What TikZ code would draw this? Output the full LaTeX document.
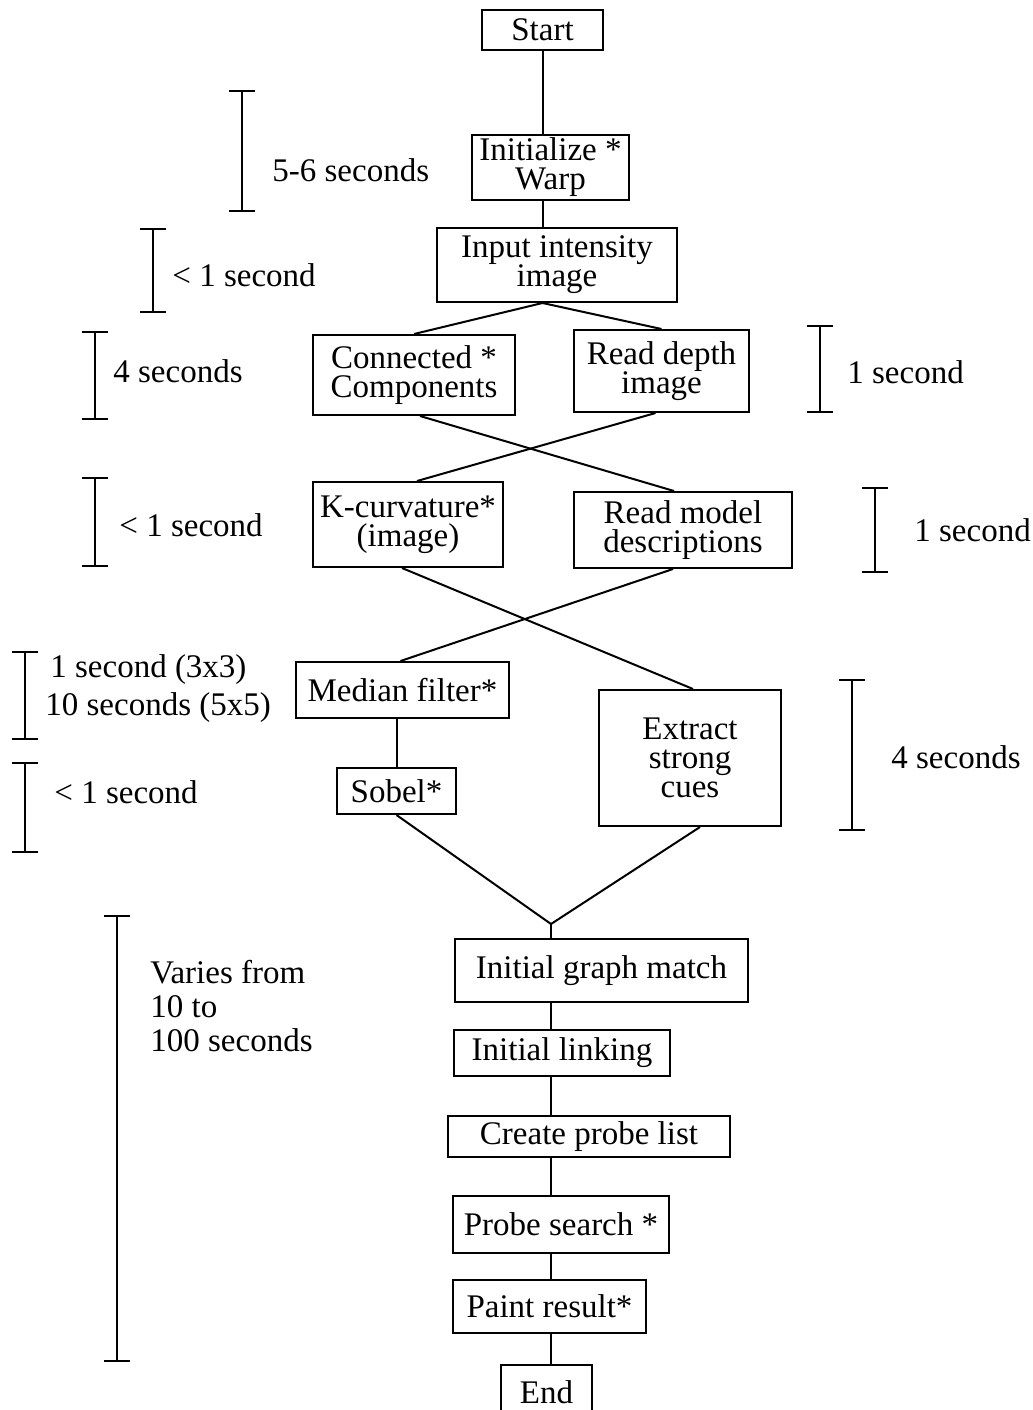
\documentclass[tikz,border=0pt]{standalone}
\usepackage{fontspec}
\setmainfont{Liberation Serif}
\usetikzlibrary{arrows.meta}

\begin{document}
\begin{tikzpicture}[
    x=0.5pt, y=-0.5pt,
    stage/.style={draw, line width=1pt, inner sep=0pt, align=center, font=\fontsize{16.5}{14.5}\selectfont},
    timing/.style={anchor=west, align=left, inner sep=0pt, font=\fontsize{16.5}{17}\selectfont},
    span/.style={line width=1pt, {Bar[width=13pt]}-{Bar[width=13pt]}},
    link/.style={line width=1pt}
  ]
  \useasboundingbox (0,0) rectangle (1033,1410);

  % processing stages
  \node[stage, minimum width=121*0.5pt, minimum height=40*0.5pt] (start) at (542.5,30) {Start};
  \node[stage, minimum width=157*0.5pt, minimum height=65*0.5pt] (init) at (550.5,167.5) {Initialize *\\Warp};
  \node[stage, minimum width=240*0.5pt, minimum height=74*0.5pt] (input) at (557,265) {Input intensity\\image};
  \node[stage, minimum width=202*0.5pt, minimum height=80*0.5pt] (cc) at (414,375) {Connected *\\Components};
  \node[stage, minimum width=175*0.5pt, minimum height=82*0.5pt] (depth) at (661.5,371) {Read depth\\image};
  \node[stage, minimum width=190*0.5pt, minimum height=85*0.5pt] (kcurv) at (408,524.5) {K-curvature*\\(image)};
  \node[stage, minimum width=218*0.5pt, minimum height=76*0.5pt] (model) at (683,530) {Read model\\descriptions};
  \node[stage, minimum width=213*0.5pt, minimum height=56*0.5pt] (median) at (402.5,690) {Median filter*};
  \node[stage, minimum width=119*0.5pt, minimum height=46*0.5pt] (sobel) at (396.5,791) {Sobel*};
  \node[stage, minimum width=182*0.5pt, minimum height=136*0.5pt] (cues) at (690,758) {Extract\\strong\\cues};
  \node[stage, minimum width=293*0.5pt, minimum height=63*0.5pt] (gmatch) at (601.5,970.5) {Initial graph match};
  \node[stage, minimum width=216*0.5pt, minimum height=46*0.5pt] (linking) at (562,1053) {Initial linking};
  \node[stage, minimum width=282*0.5pt, minimum height=41*0.5pt] (probes) at (589,1136.5) {Create probe list};
  \node[stage, minimum width=216*0.5pt, minimum height=57*0.5pt] (search) at (561,1224.5) {Probe search *};
  \node[stage, minimum width=193*0.5pt, minimum height=53*0.5pt] (paint) at (549.5,1306.5) {Paint result*};
  \node[stage, minimum width=91*0.5pt, minimum height=55*0.5pt] (finish) at (546.5,1392.5) {End};

  \coordinate (fork) at (input.south -| start);
  \coordinate (join) at (551,924);

  \draw[link] (start.south) -- (start.south |- init.north);
  \draw[link] (init.south -| start) -- (input.north -| start);
  \draw[link] (cc.north) -- (fork) -- (depth.north);
  \draw[link] ([xshift=3pt]cc.south) -- ([xshift=-4.5pt]model.north);
  \draw[link] ([xshift=-3pt]depth.south) -- ([xshift=4.5pt]kcurv.north);
  \draw[link] ([xshift=-3pt]kcurv.south) -- ([xshift=1.5pt]cues.north);
  \draw[link] ([xshift=-5pt]model.south) -- ([xshift=-1pt]median.north);
  \draw[link] (sobel.north |- median.south) -- (sobel.north);
  \draw[link] (sobel.south) -- (join) -- ([xshift=5pt]cues.south);
  \draw[link] (join) -- (join |- gmatch.north);
  \foreach \a/\b in {gmatch/linking, linking/probes, probes/search, search/paint, paint/finish}
    \draw[link] (\a.south -| join) -- (\b.north -| join);

  % timing spans
  \foreach \x/\ya/\yb in {242/90/212, 153/228/313, 95/331/420, 95/477/567, 820/325/413,
      875/487/573, 25/651/740, 25/762/853, 852/679/831, 117/915/1362}
    \draw[span] (\x,\ya) -- (\x,\yb);

  \node[timing] (tinit) at (272,170) {5-6 seconds};
  \node[timing] (tinput) at (172,275) {< 1 second};
  \node[timing] (tcc) at (113,371) {4 seconds};
  \node[timing] (tkc) at (119,525) {< 1 second};
  \node[timing] (tdepth) at (847,372) {1 second};
  \node[timing] (tmodel) at (914,530) {1 second};
  \node[timing, font=\fontsize{16.5}{19}\selectfont] (tmedian) at (45,689) {\hspace*{2.5pt}1 second (3x3)\\10 seconds (5x5)};
  \node[timing] (tsobel) at (54,792) {< 1 second};
  \node[timing] (tcues) at (891,757) {4 seconds};
  \node[timing] (tmatch) at (150,1006) {Varies from\\10 to\\100 seconds};
\end{tikzpicture}
\end{document}
